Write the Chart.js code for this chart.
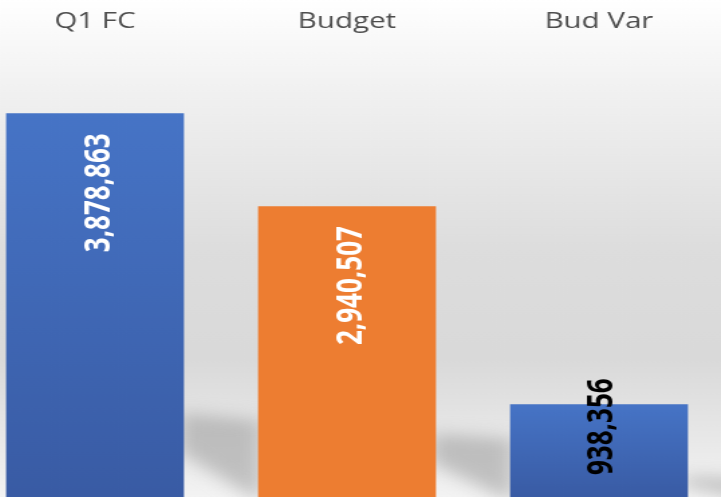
<!DOCTYPE html>
<html><head><meta charset="utf-8">
<script src="https://cdn.jsdelivr.net/npm/chart.js@4.4.0/dist/chart.umd.min.js"></script>
<style>
html,body{margin:0;padding:0;width:721px;height:497px;overflow:hidden;background:#fff;}
#wrap{position:absolute;left:-31px;top:0;width:564px;height:497px;transform:scaleX(1.3404);transform-origin:0 0;}
canvas{display:block;}
</style></head><body>
<div id="wrap"><canvas id="c" width="564" height="497"></canvas></div>
<script>
// ---- data ----
const categories = ['Q1 FC', 'Budget', 'Bud Var'];
const values = [3878863, 2940507, 938356];
const yMax = 4620000;

// ---- styles ----
const barColorsTop = ['#4674c6', '#ed7d31', '#4674c6'];
const barColorsBottom = ['#395ba4', '#ed7d31', '#395ba4'];

const fmt = v => v.toLocaleString('en-US');

const bgPlugin = {
  id: 'bg',
  beforeDraw(chart) {
    const {ctx, width, height} = chart;
    const g = ctx.createLinearGradient(0, 0, 0, height);
    g.addColorStop(0, '#ffffff');
    g.addColorStop(0.18, '#f1f1f1');
    g.addColorStop(0.5, '#dddddd');
    g.addColorStop(0.72, '#d9d9d9');
    g.addColorStop(0.86, '#e6e6e6');
    g.addColorStop(1, '#f3f3f3');
    ctx.save();
    ctx.fillStyle = g;
    ctx.fillRect(0, 0, width, height);
    ctx.restore();
  }
};

const shadowPlugin = {
  id: 'shadows',
  beforeDatasetsDraw(chart) {
    const {ctx} = chart;
    const meta = chart.getDatasetMeta(0);
    ctx.save();
    ctx.filter = 'blur(8px)';
    ctx.fillStyle = 'rgba(160,160,160,0.6)';
    meta.data.forEach(bar => {
      const xR = bar.x + bar.width / 2;
      const yb = bar.base;
      const h = bar.base - bar.y;
      ctx.beginPath();
      ctx.moveTo(xR - 4, yb - 0.22 * h);
      ctx.lineTo(xR + 58, yb - 0.20 * h);
      ctx.lineTo(xR + 58, yb + 6);
      ctx.lineTo(xR - 4, yb - 0.12 * h);
      ctx.closePath();
      ctx.fill();
    });
    ctx.restore();
  }
};

const labelPlugin = {
  id: 'vlabels',
  afterDatasetsDraw(chart) {
    const {ctx} = chart;
    const meta = chart.getDatasetMeta(0);
    ctx.save();
    ctx.font = 'bold 26px "Open Sans"';
    ctx.textBaseline = 'middle';
    meta.data.forEach((bar, i) => {
      const txt = fmt(values[i]);
      const w = ctx.measureText(txt).width;
      const h = bar.base - bar.y;
      const fits = w + 40 <= h;
      ctx.save();
      if (fits) {
        ctx.translate(bar.x + 4, bar.y + 20);
        ctx.rotate(-Math.PI / 2);
        ctx.textAlign = 'right';
        ctx.fillStyle = '#ffffff';
      } else {
        ctx.translate(bar.x + 3, bar.base - 22);
        ctx.rotate(-Math.PI / 2);
        ctx.textAlign = 'left';
        ctx.fillStyle = '#000000';
      }
      ctx.fillText(txt, 0, 0);
      ctx.restore();
    });
    ctx.restore();
  }
};

new Chart(document.getElementById('c'), {
  type: 'bar',
  data: {
    labels: categories,
    datasets: [{
      data: values,
      borderWidth: 0,
      categoryPercentage: 1,
      barPercentage: 0.706,
      backgroundColor(c) {
        const i = c.dataIndex;
        const chart = c.chart;
        if (!chart.chartArea || !chart.scales.y) return barColorsTop[i];
        const yTop = chart.scales.y.getPixelForValue(values[i]);
        const yBot = chart.scales.y.getPixelForValue(0);
        const g = chart.ctx.createLinearGradient(0, yTop, 0, yBot);
        g.addColorStop(0, barColorsTop[i]);
        g.addColorStop(1, barColorsBottom[i]);
        return g;
      }
    }]
  },
  options: {
    responsive: false,
    animation: false,
    layout: {padding: 0},
    plugins: {legend: {display: false}, tooltip: {enabled: false}},
    scales: {
      x: {
        position: 'top',
        grid: {display: false, drawTicks: false},
        border: {display: false},
        ticks: {color: '#4d4d4d', font: {family: '"Open Sans"', size: 22}, padding: 5, maxRotation: 0},
        afterFit(s) { s.height = 40; }
      },
      y: {
        display: false,
        min: 0,
        max: yMax
      }
    }
  },
  plugins: [bgPlugin, shadowPlugin, labelPlugin]
});
</script>
</body></html>
